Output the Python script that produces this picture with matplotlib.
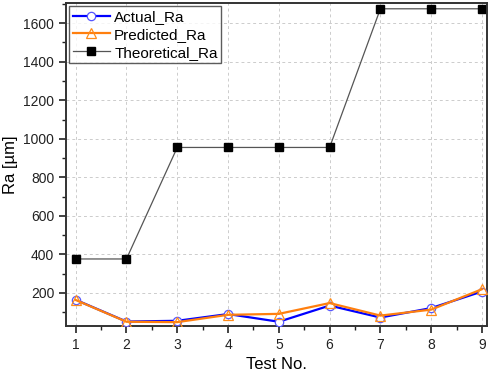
import matplotlib
matplotlib.use("Agg")
import matplotlib.pyplot as plt
from matplotlib.ticker import MultipleLocator

plt.rcParams['font.family'] = ['Liberation Sans', 'DejaVu Sans']

# Data
test_no = [1, 2, 3, 4, 5, 6, 7, 8, 9]
actual_ra = [164, 51, 55, 90, 50, 134, 72, 121, 207]
predicted_ra = [163, 50, 48, 86, 91, 147, 82, 113, 219]
theoretical_ra = [376, 376, 955, 955, 955, 955, 1675, 1675, 1675]

fig = plt.figure(figsize=(4.89, 3.76), dpi=100)
ax = fig.add_axes([0.135, 0.133, 0.861, 0.859])

ax.plot(test_no, actual_ra, color='#0000ff', lw=1.6, marker='o', ms=6,
        mfc='white', mec='#5555ff', mew=0.9, label='Actual_Ra', zorder=3)
ax.plot(test_no, predicted_ra, color='#ff7f0e', lw=1.6, marker='^', ms=7,
        mfc='none', mec='#ff8c1a', mew=0.9, label='Predicted_Ra', zorder=4)
ax.plot(test_no, theoretical_ra, color='#555555', lw=0.9, marker='s', ms=6,
        mfc='black', mec='black', label='Theoretical_Ra', zorder=2)

ax.set_xlim(0.81, 9.1)
ax.set_ylim(28, 1705)
ax.xaxis.set_major_locator(MultipleLocator(1))
ax.xaxis.set_minor_locator(MultipleLocator(0.5))
ax.yaxis.set_minor_locator(MultipleLocator(100))
ax.set_yticks([200, 400, 600, 800, 1000, 1200, 1400, 1600])

ax.grid(True, which='major', color='#cccccc', ls=(0, (3, 3)), lw=0.7)
ax.tick_params(which='major', direction='out', length=5, width=1.2, labelsize=10, colors='#222222')
ax.tick_params(which='minor', direction='out', length=3, width=1.0, colors='#222222')
for s in ax.spines.values():
    s.set_linewidth(1.4)
    s.set_color('#333333')

ax.set_xlabel('Test No.', fontsize=12)
ax.set_ylabel('Ra [µm]', fontsize=12)

leg = ax.legend(loc='upper left', fontsize=11, frameon=True, fancybox=False,
                edgecolor='#333333', borderpad=0.25, handlelength=2.4,
                handletextpad=0.3, labelspacing=0.25, borderaxespad=0.2)
leg.get_frame().set_linewidth(1.0)

fig.savefig('out.png', dpi=100)
